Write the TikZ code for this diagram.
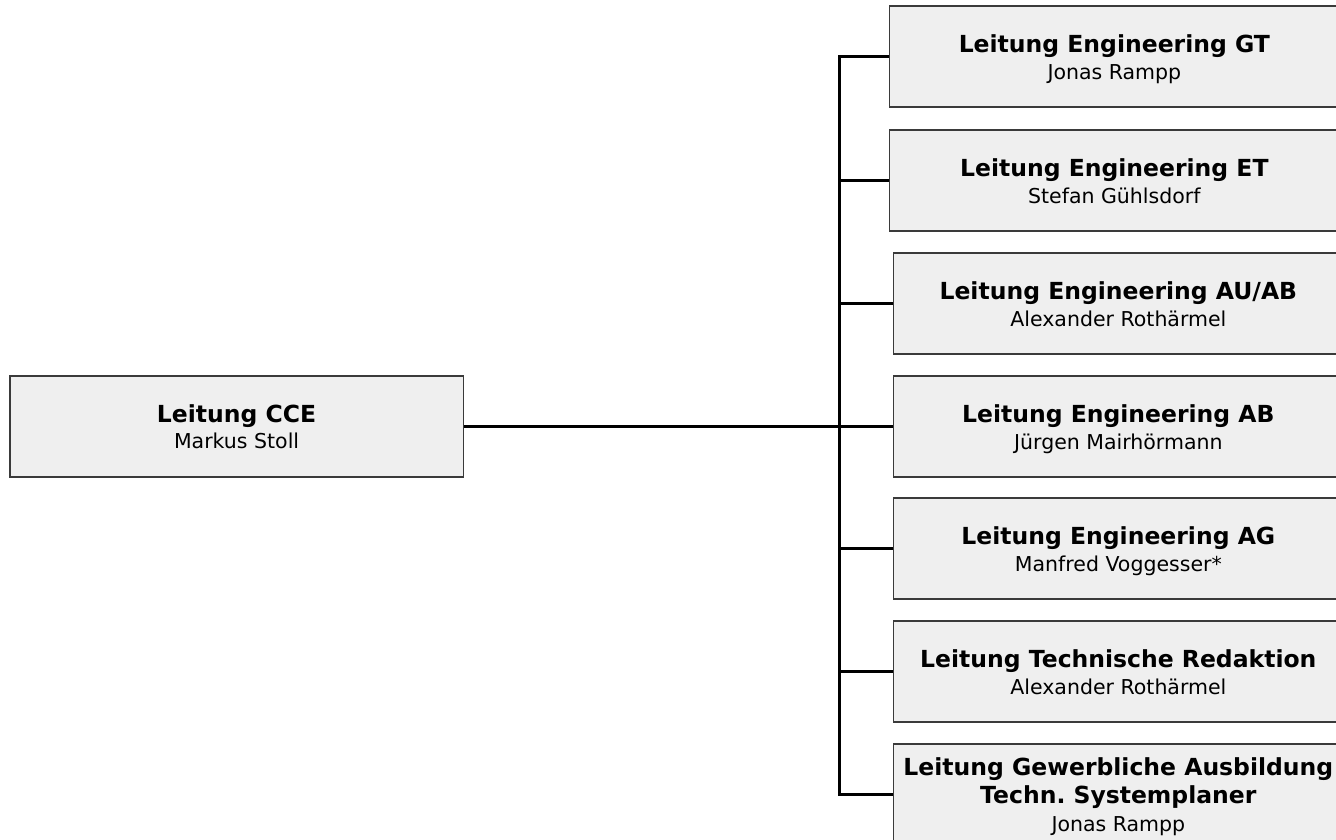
\documentclass[tikz,border=0pt]{standalone}
\usepackage{fontspec}
\setmainfont{DejaVu Sans}
\usetikzlibrary{calc}
\frenchspacing
\definecolor{boxfill}{HTML}{EFEFEF}
\definecolor{boxline}{HTML}{3A3A3A}
\tikzset{
  box/.style={draw=boxline, line width=1.7pt, fill=boxfill, rectangle, inner sep=0pt, minimum width=450pt, minimum height=101pt, anchor=north west},
  ttl/.style={anchor=base, inner sep=0pt, font=\fontsize{23.5}{28}\selectfont\bfseries},
  sub/.style={anchor=base, inner sep=0pt, font=\fontsize{20.5}{25}\selectfont},
  conn/.style={draw=black, line width=3.5pt}
}
\begin{document}
\begin{tikzpicture}[x=1pt, y=-1pt]
\useasboundingbox (0,0) rectangle (1336,839);
\clip (0,0) rectangle (1336,839);
\fill[white] (0,0) rectangle (1336,839);
% left box
\node[box, minimum width=453.5pt] (cce) at (9,375) {};
\node[ttl] (cceT) at ($(cce.north)+(0,47)$) {Leitung CCE};
\node[sub] (cceS) at ($(cce.north)+(0,73.5)$) {Markus Stoll};
% right boxes
\node[box] (b1) at (888.5,5) {};
\node[box] (b2) at (888.5,129) {};
\node[box] (b3) at (892.5,252) {};
\node[box] (b4) at (892.5,375) {};
\node[box] (b5) at (892.5,497) {};
\node[box] (b6) at (892.5,620) {};
\node[box] (b7) at (892.5,743) {};
\node[ttl] (b1T) at ($(b1.north)+(0,47)$) {Leitung Engineering GT};
\node[sub] (b1S) at ($(b1.north)+(0,74.5)$) {Jonas Rampp};
\node[ttl] (b2T) at ($(b2.north)+(0,47)$) {Leitung Engineering ET};
\node[sub] (b2S) at ($(b2.north)+(0,74.5)$) {Stefan Gühlsdorf};
\node[ttl] (b3T) at ($(b3.north)+(0,47)$) {Leitung Engineering AU/AB};
\node[sub] (b3S) at ($(b3.north)+(0,74.5)$) {Alexander Rothärmel};
\node[ttl] (b4T) at ($(b4.north)+(0,47)$) {Leitung Engineering AB};
\node[sub] (b4S) at ($(b4.north)+(0,74.5)$) {Jürgen Mairhörmann};
\node[ttl] (b5T) at ($(b5.north)+(0,47)$) {Leitung Engineering AG};
\node[sub] (b5S) at ($(b5.north)+(0,74.5)$) {Manfred Voggesser*};
\node[ttl] (b6T) at ($(b6.north)+(0,47)$) {Leitung Technische Redaktion};
\node[sub] (b6S) at ($(b6.north)+(0,74.5)$) {Alexander Rothärmel};
\node[ttl] (b7T) at ($(b7.north)+(0,32)$) {Leitung Gewerbliche Ausbildung};
\node[ttl] (b7U) at ($(b7.north)+(0,60.5)$) {Techn. Systemplaner};
\node[sub] (b7S) at ($(b7.north)+(0,88)$) {Jonas Rampp};
% connectors
\coordinate (tj) at (839.3,0 |- cce.east);
\coordinate (t1) at (839.3,0 |- b1.west);
\coordinate (t7) at (839.3,0 |- b7.west);
\draw[conn] (cce.east) -- (tj);
\draw[conn, line cap=rect] (t1) -- (t7);
\foreach \b in {b1,b2,b3,b4,b5,b6,b7}{
  \draw[conn] (839.3,0 |- \b.west) -- (\b.west);
}
\end{tikzpicture}
\end{document}
